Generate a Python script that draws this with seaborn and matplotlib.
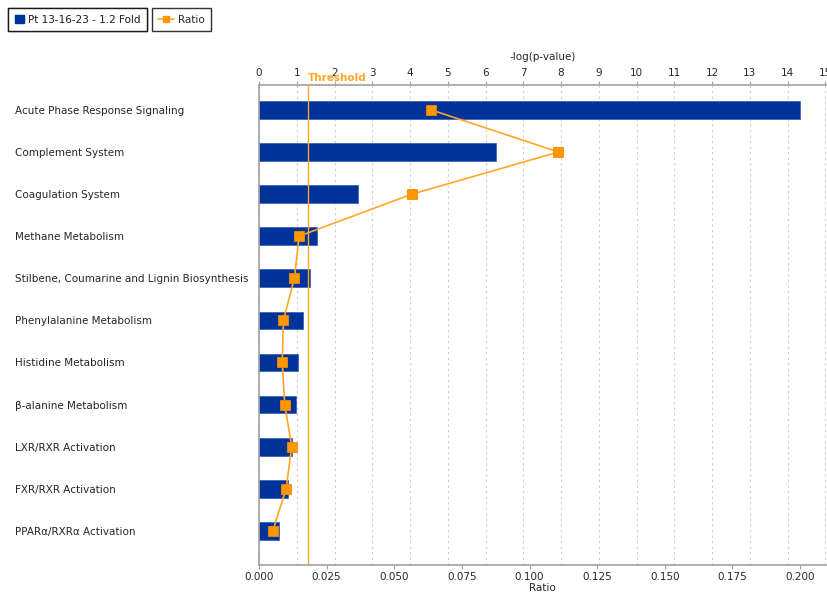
import matplotlib
matplotlib.use("Agg")
import matplotlib.pyplot as plt
from matplotlib.lines import Line2D
from matplotlib.patches import Patch
import numpy as np
import pandas as pd
import seaborn as sns

# ---- data ----
pathways = [
    "Acute Phase Response Signaling",
    "Complement System",
    "Coagulation System",
    "Methane Metabolism",
    "Stilbene, Coumarine and Lignin Biosynthesis",
    "Phenylalanine Metabolism",
    "Histidine Metabolism",
    "\u03b2-alanine Metabolism",
    "LXR/RXR Activation",
    "FXR/RXR Activation",
    "PPAR\u03b1/RXR\u03b1 Activation",
]
neg_log_p = [14.33, 6.27, 2.62, 1.53, 1.35, 1.16, 1.04, 0.97, 0.88, 0.78, 0.52]
ratio = [0.0636, 0.1107, 0.0566, 0.0148, 0.0131, 0.0090, 0.0086, 0.0095, 0.0121, 0.0100, 0.0051]
threshold = 1.3
top_ticks = list(range(0, 16))
ratio_ticks = [0.000, 0.025, 0.050, 0.075, 0.100, 0.125, 0.150, 0.175, 0.200]

bar_color = "#003399"
line_color = "#FFA726"
marker_color = "#FF9800"
spine_color = "#a0a0a0"

df = pd.DataFrame({"pathway": pathways, "nlp": neg_log_p, "ratio": ratio})
df["pos"] = np.arange(len(df))

sns.set_style("white")
plt.rcParams["font.family"] = ["DejaVu Sans"]
plt.rcParams["font.size"] = 7.5

fig = plt.figure(figsize=(8.27, 5.93), dpi=100)
ax = fig.add_axes([0.3132, 0.0472, 0.6856, 0.8094])

sns.barplot(data=df, y="pathway", x="nlp", orient="h", color=bar_color,
            saturation=1, width=0.42, edgecolor="#3355bb", linewidth=0.5, ax=ax)
ax.set_ylim(10.81, -0.59)

# ratio on a twin x axis (bottom)
ax2 = ax.twiny()
sns.lineplot(data=df, x="ratio", y="pos", sort=False, estimator=None,
             color=line_color, linewidth=1.2, marker="s", markersize=6.5,
             markerfacecolor=marker_color, markeredgecolor="#f08c00",
             markeredgewidth=0.6, ax=ax2)

# -log(p) axis on top
ax.set_xlim(0, 15.02)
ax.xaxis.set_ticks_position("top")
ax.xaxis.set_label_position("top")
ax.set_xticks(top_ticks)
ax.set_xlabel("-log(p-value)", fontsize=7.5, labelpad=6)
ax.set_ylabel("")
ax.tick_params(axis="x", which="both", top=True, bottom=False, labeltop=True,
               labelbottom=False, length=3, color=spine_color, pad=2, labelsize=7.5)
ax.tick_params(axis="y", length=0, pad=176, labelsize=7.5)
for lab in ax.get_yticklabels():
    lab.set_horizontalalignment("left")
ax.grid(axis="x", linestyle=(0, (2, 3)), color="#cccccc", linewidth=0.8)
ax.set_axisbelow(True)
ax.axvline(threshold, color=line_color, linewidth=1, zorder=1.5)
ax.text(threshold, -0.64, "Threshold", color=line_color, fontsize=7.5,
        fontweight="bold", ha="left", va="bottom")
ax.spines["right"].set_visible(False)
for side in ["left", "top", "bottom"]:
    ax.spines[side].set_color(spine_color)
    ax.spines[side].set_linewidth(1.2)

# ratio axis on bottom
ax2.set_xlim(0, 0.2096)
ax2.set_ylim(10.81, -0.59)
ax2.xaxis.set_ticks_position("bottom")
ax2.xaxis.set_label_position("bottom")
ax2.set_xticks(ratio_ticks)
ax2.set_xticklabels([f"{t:.3f}" for t in ratio_ticks])
ax2.set_xlabel("Ratio", fontsize=7.5, labelpad=1)
ax2.set_ylabel("")
ax2.tick_params(axis="x", which="both", top=False, bottom=True, labeltop=False,
                labelbottom=True, length=3, color=spine_color, pad=2, labelsize=7.5)
for side in ["right", "top", "left", "bottom"]:
    ax2.spines[side].set_visible(False)

# two separate boxed legends at the top left
leg1 = fig.legend(handles=[Patch(facecolor=bar_color, edgecolor=bar_color)],
                  labels=["Pt 13-16-23 - 1.2 Fold"], loc="upper left",
                  bbox_to_anchor=(0.010, 0.986), frameon=True, fancybox=False,
                  edgecolor="black", handlelength=0.9, handleheight=0.9,
                  handletextpad=0.4, borderpad=0.6, borderaxespad=0, fontsize=7.5)
leg1.get_frame().set_linewidth(1.0)
leg2 = fig.legend(handles=[Line2D([0], [0], color=line_color, marker="s",
                                  markersize=5, markerfacecolor=marker_color,
                                  markeredgecolor=marker_color, linewidth=1.2)],
                  labels=["Ratio"], loc="upper left",
                  bbox_to_anchor=(0.184, 0.986), frameon=True, fancybox=False,
                  edgecolor="black", handlelength=1.5, handletextpad=0.4,
                  borderpad=0.6, borderaxespad=0, fontsize=7.5)
leg2.get_frame().set_linewidth(1.0)
fig.add_artist(leg1)

fig.savefig("out.png", dpi=100)
